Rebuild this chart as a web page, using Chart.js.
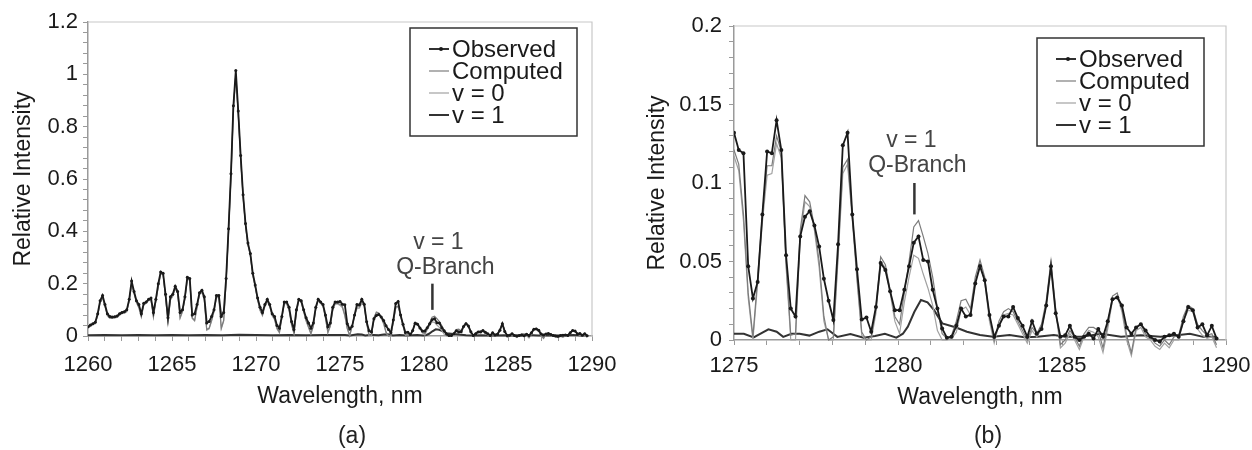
<!DOCTYPE html>
<html>
<head>
<meta charset="utf-8">
<script src="https://cdn.jsdelivr.net/npm/chart.js@4.4.0/dist/chart.umd.min.js"></script>
<style>
  body { margin: 0; background: #fff; width: 1252px; height: 450px; position: relative; overflow: hidden; font-family: "Liberation Sans", Arial, sans-serif; }
  canvas { position: absolute; top: 0; }
  #chartA { left: 0; }
  #chartB { left: 620px; }
  .caption { position: absolute; top: 424px; font-size: 23px; line-height: 1; color: #222; transform: translateX(-50%); }
</style>
</head>
<body>
<canvas id="chartA" width="620" height="450"></canvas>
<canvas id="chartB" width="632" height="450"></canvas>
<div class="caption" style="left:352px">(a)</div>
<div class="caption" style="left:988px">(b)</div>
<script>
// Sampling grid of the spectrometer (nm)
const wlStart = 1260;
const wlStep = 15 / 104;

const seriesNames = ["Observed", "Computed", "v = 0", "v = 1"];
const noteLines = ["v = 1", "Q-Branch"];
const qBranchWavelength = 1280.5;

// Relative intensity, one value per grid point
const observed = [
  0.035, 0.042, 0.047, 0.053, 0.085, 0.135, 0.155, 0.12, 0.085, 0.075,
  0.073, 0.074, 0.076, 0.085, 0.09, 0.093, 0.1, 0.14, 0.21, 0.17,
  0.135, 0.12, 0.085, 0.125, 0.13, 0.14, 0.145, 0.09, 0.14, 0.2,
  0.245, 0.24, 0.16, 0.07, 0.15, 0.16, 0.19, 0.17, 0.09, 0.1,
  0.15, 0.225, 0.22, 0.08, 0.085, 0.12, 0.165, 0.175, 0.15, 0.05,
  0.055, 0.075, 0.1, 0.155, 0.155, 0.075, 0.09, 0.22, 0.41, 0.62,
  0.88, 1.015, 0.86, 0.69, 0.54, 0.43, 0.355, 0.315, 0.24, 0.195,
  0.145, 0.11, 0.09, 0.12, 0.14, 0.12, 0.085, 0.075, 0.04, 0.03,
  0.075, 0.13, 0.13, 0.11, 0.055, 0.025, 0.1, 0.14, 0.135, 0.1,
  0.07, 0.05, 0.03, 0.05, 0.11, 0.14, 0.13, 0.12, 0.08, 0.035,
  0.05, 0.11, 0.13, 0.13,
  0.132, 0.121, 0.119, 0.047, 0.0265, 0.037, 0.08, 0.12, 0.119, 0.14,
  0.121, 0.054, 0.02, 0.015, 0.066, 0.0785, 0.082, 0.073, 0.0595, 0.039,
  0.025, 0.0127, 0.061, 0.124, 0.132, 0.08, 0.045, 0.013, 0.0144, 0.0053,
  0.021, 0.049, 0.0446, 0.031, 0.019,
  0.019, 0.032, 0.047, 0.062, 0.066, 0.051, 0.05, 0.032, 0.02, 0.0074,
  0.0015, 0.002, 0.009, 0.02, 0.015, 0.016, 0.036, 0.047, 0.038, 0.016,
  0.002, 0.009, 0.015, 0.015, 0.021, 0.014, 0.009, 0.002, 0.012, 0.004,
  0.007, 0.022, 0.047, 0.017, 0.002,
  0.003, 0.009, 0.002, 0.0, 0.002, 0.004, 0.001, 0.007, 0.002, 0.012,
  0.026, 0.027, 0.022, 0.008, 0.004, 0.008, 0.01, 0.006, 0.002, 0.0,
  -0.001, 0.002, 0.003, 0.004, 0.002, 0.012, 0.021, 0.019, 0.008, 0.01,
  0.003, 0.009, 0.001
];

const computed = [
  0.033, 0.04, 0.046, 0.05, 0.08, 0.13, 0.15, 0.115, 0.08, 0.07,
  0.07, 0.072, 0.074, 0.082, 0.088, 0.09, 0.095, 0.135, 0.2, 0.165,
  0.13, 0.11, 0.075, 0.12, 0.128, 0.138, 0.14, 0.075, 0.135, 0.19,
  0.24, 0.235, 0.15, 0.055, 0.14, 0.155, 0.185, 0.165, 0.07, 0.095,
  0.145, 0.22, 0.215, 0.07, 0.06, 0.11, 0.16, 0.17, 0.14, 0.025,
  0.03, 0.06, 0.095, 0.15, 0.15, 0.03, 0.06, 0.21, 0.4, 0.61,
  0.87, 1.0, 0.85, 0.68, 0.535, 0.425, 0.35, 0.31, 0.235, 0.19,
  0.14, 0.1, 0.08, 0.115, 0.135, 0.115, 0.08, 0.065, 0.03, 0.015,
  0.07, 0.128, 0.125, 0.1, 0.045, 0.012, 0.09, 0.14, 0.13, 0.095,
  0.06, 0.035, 0.01, 0.04, 0.105, 0.14, 0.128, 0.115, 0.07, 0.015,
  0.04, 0.1, 0.125, 0.125,
  0.121, 0.112, 0.08, 0.03, 0.002, 0.04, 0.08, 0.111, 0.111, 0.13,
  0.12, 0.05, 0.003, 0.004, 0.07, 0.092, 0.088, 0.072, 0.05, 0.015,
  0.0, 0.002, 0.055, 0.11, 0.115, 0.08, 0.04, 0.005, 0.0, 0.002,
  0.02, 0.053, 0.048, 0.032, 0.015,
  0.01, 0.03, 0.05, 0.072, 0.076, 0.066, 0.055, 0.04, 0.02, 0.004,
  0.001, 0.003, 0.012, 0.025, 0.026, 0.02, 0.04, 0.051, 0.04, 0.015,
  0.0, 0.012, 0.018, 0.02, 0.018, 0.012, 0.006, 0.0, 0.008, 0.004,
  0.01, 0.025, 0.05, 0.02, -0.003,
  0.0, 0.006, 0.002, -0.004, 0.004, 0.008, 0.008, 0.006, -0.005, 0.01,
  0.028, 0.03, 0.02, 0.003, -0.008, 0.008, 0.01, 0.004, 0.002, -0.002,
  -0.004, 0.0, -0.003, 0.002, 0.003, 0.015, 0.022, 0.02, 0.01, 0.006,
  0.003, 0.004, -0.003
];

const vZero = [
  0.03, 0.037, 0.043, 0.047, 0.077, 0.127, 0.147, 0.112, 0.077, 0.067,
  0.067, 0.069, 0.071, 0.079, 0.085, 0.087, 0.092, 0.132, 0.197, 0.162,
  0.127, 0.107, 0.072, 0.117, 0.125, 0.135, 0.137, 0.072, 0.132, 0.187,
  0.237, 0.232, 0.147, 0.052, 0.137, 0.152, 0.182, 0.162, 0.067, 0.092,
  0.142, 0.217, 0.212, 0.067, 0.057, 0.107, 0.157, 0.167, 0.137, 0.022,
  0.027, 0.057, 0.092, 0.147, 0.147, 0.027, 0.057, 0.207, 0.397, 0.607,
  0.867, 0.997, 0.847, 0.677, 0.532, 0.422, 0.347, 0.307, 0.232, 0.187,
  0.137, 0.097, 0.077, 0.112, 0.132, 0.112, 0.077, 0.062, 0.027, 0.012,
  0.067, 0.125, 0.122, 0.097, 0.042, 0.009, 0.087, 0.137, 0.127, 0.092,
  0.057, 0.032, 0.007, 0.037, 0.102, 0.137, 0.125, 0.112, 0.067, 0.012,
  0.037, 0.097, 0.122, 0.122,
  0.117, 0.108, 0.076, 0.027, 0.0, 0.036, 0.075, 0.105, 0.106, 0.125,
  0.116, 0.047, 0.0, 0.0, 0.066, 0.088, 0.085, 0.07, 0.046, 0.012,
  0.0, 0.0, 0.052, 0.106, 0.112, 0.077, 0.038, 0.003, 0.0, 0.0,
  0.017, 0.05, 0.046, 0.03, 0.012,
  0.004, 0.024, 0.04, 0.054, 0.052, 0.042, 0.033, 0.022, 0.006, 0.0,
  0.0, 0.001, 0.005, 0.019, 0.021, 0.016, 0.037, 0.048, 0.037, 0.012,
  -0.002, 0.01, 0.016, 0.017, 0.016, 0.01, 0.004, -0.002, 0.006, 0.002,
  0.007, 0.022, 0.047, 0.018, -0.005,
  -0.002, 0.004, 0.0, -0.006, 0.002, 0.006, 0.005, 0.002, -0.008, 0.007,
  0.025, 0.028, 0.018, 0.0, -0.01, 0.006, 0.008, 0.002, 0.0, -0.004,
  -0.006, -0.002, -0.005, 0.0, 0.0, 0.012, 0.019, 0.018, 0.007, 0.003,
  0.001, 0.002, -0.005
];

// v = 1 band is smooth, read on its own wavelengths
const vOneWavelength = [
  1260, 1261, 1262, 1263, 1264, 1265, 1266, 1267, 1268, 1269,
  1270, 1271, 1272, 1273, 1274, 1275, 1275.3, 1275.6, 1276.05, 1276.3,
  1276.5, 1276.75, 1277, 1277.3, 1277.6, 1277.85, 1278.15, 1278.55, 1278.95, 1279.3,
  1279.6, 1279.95, 1280.15, 1280.3, 1280.5, 1280.7, 1280.9, 1281.1, 1281.35, 1281.75,
  1282.1, 1282.5, 1282.9, 1283.4, 1283.85, 1284.25, 1284.75, 1285.1, 1285.6, 1286.2,
  1286.8, 1287.4, 1288, 1288.5, 1288.9, 1289.3, 1289.7
];
const vOne = [
  0.003, 0.004, 0.003, 0.004, 0.003, 0.004, 0.003, 0.004, 0.003, 0.005,
  0.004, 0.003, 0.004, 0.003, 0.004, 0.004, 0.004, 0.0017, 0.0068, 0.0053,
  0.002, 0.004, 0.004, 0.0028, 0.0053, 0.0068, 0.002, 0.0038, 0.0015, 0.0025,
  0.004, 0.0015, 0.004, 0.0085, 0.018, 0.0255, 0.024, 0.019, 0.0106, 0.0081,
  0.0053, 0.0032, 0.0021, 0.0032, 0.0017, 0.0021, 0.0032, 0.0021, 0.002, 0.004,
  0.002, 0.003, 0.002, 0.003, 0.004, 0.002, 0.002
];

const wavelength = observed.map((_, i) => wlStart + i * wlStep);
const toPoints = (xs, ys) => ys.map((y, i) => ({ x: xs[i], y: y }));

const FONT = '"Liberation Sans", Arial, sans-serif';
Chart.defaults.font.family = FONT;
Chart.defaults.color = "#1a1a1a";

const styles = [
  { color: "#1a1a1a", width: 1.8, dot: true },
  { color: "#7c7c7c", width: 1.2 },
  { color: "#a2a2a2", width: 1.2 },
  { color: "#333333", width: 2 }
];

function drawLegend(chart, o) {
  const { ctx, chartArea } = chart;
  const w = 167, h = 108;
  const left = chartArea.right - o.inset - w;
  const top = chartArea.top + o.drop;
  ctx.save();
  ctx.fillStyle = "#fff";
  ctx.fillRect(left, top, w, h);
  ctx.strokeStyle = "#333";
  ctx.lineWidth = 1.5;
  ctx.strokeRect(left, top, w, h);
  ctx.font = "24px " + FONT;
  ctx.textAlign = "left";
  ctx.textBaseline = "alphabetic";
  seriesNames.forEach((name, i) => {
    const s = styles[i];
    const base = top + 29 + i * 22;
    const mid = base - 8;
    ctx.strokeStyle = s.color;
    ctx.lineWidth = s.width;
    ctx.beginPath();
    ctx.moveTo(left + 19, mid);
    ctx.lineTo(left + 39, mid);
    ctx.stroke();
    if (s.dot) {
      ctx.fillStyle = s.color;
      ctx.beginPath();
      ctx.arc(left + 31, mid, 2, 0, Math.PI * 2);
      ctx.fill();
    }
    ctx.fillStyle = "#1a1a1a";
    ctx.fillText(name, left + 42, base);
  });
  ctx.restore();
}

function drawNote(chart, o) {
  const { ctx, scales } = chart;
  const x = scales.x.getPixelForValue(qBranchWavelength);
  const yTop = scales.y.getPixelForValue(o.from);
  const yBot = scales.y.getPixelForValue(o.to);
  ctx.save();
  ctx.strokeStyle = "#333";
  ctx.lineWidth = 2.5;
  ctx.beginPath();
  ctx.moveTo(x, yTop);
  ctx.lineTo(x, yBot);
  ctx.stroke();
  ctx.fillStyle = "#444";
  ctx.font = "23px " + FONT;
  ctx.textAlign = "center";
  ctx.fillText(noteLines[0], x + o.dx[0], yTop - o.dy[0]);
  ctx.fillText(noteLines[1], x + o.dx[1], yTop - o.dy[1]);
  ctx.restore();
}

// light frame on top/right, legend box and the Q-branch marker
const decor = {
  id: "decor",
  beforeDatasetsDraw(chart) {
    const { ctx, chartArea: a } = chart;
    ctx.save();
    ctx.strokeStyle = "#c8c8c8";
    ctx.lineWidth = 1.2;
    ctx.beginPath();
    ctx.moveTo(a.left, a.top);
    ctx.lineTo(a.right, a.top);
    ctx.lineTo(a.right, a.bottom);
    ctx.stroke();
    ctx.restore();
  },
  afterDraw(chart, args, opts) {
    drawNote(chart, opts.note);
    drawLegend(chart, opts.legend);
  }
};

function makeChart(id, cfg) {
  const clip = { left: 0, top: 0, right: 0, bottom: 20 };
  const sets = [
    toPoints(wavelength, observed),
    toPoints(wavelength, computed),
    toPoints(wavelength, vZero),
    toPoints(vOneWavelength, vOne)
  ];
  return new Chart(document.getElementById(id), {
    type: "line",
    data: {
      datasets: sets.map((d, i) => ({
        label: seriesNames[i],
        data: d,
        borderColor: styles[i].color,
        borderWidth: styles[i].width,
        pointRadius: styles[i].dot ? cfg.dot : 0,
        pointBackgroundColor: styles[i].color,
        pointBorderWidth: 0,
        tension: 0,
        clip: clip
      }))
    },
    options: {
      responsive: false,
      animation: false,
      events: [],
      layout: { padding: { top: cfg.top, right: cfg.right, bottom: cfg.bottom, left: 0 } },
      plugins: {
        legend: { display: false },
        tooltip: { enabled: false },
        decor: { legend: cfg.legend, note: cfg.note }
      },
      scales: {
        x: {
          type: "linear",
          min: cfg.xMin,
          max: 1290,
          afterFit: s => {
            s.height = 80;
            s.paddingLeft = 0;
            s.paddingRight = 0;
          },
          ticks: {
            stepSize: 1,
            autoSkip: false,
            maxRotation: 0,
            padding: cfg.xPad,
            color: "#1a1a1a",
            font: { size: 22 },
            callback: v => (v % 5 === 0 ? String(v) : "")
          },
          grid: { display: true, drawOnChartArea: false, drawTicks: true, tickLength: 5, color: "#9a9a9a" },
          border: { display: true, color: "#9a9a9a", width: 1.5 },
          title: { display: true, text: "Wavelength, nm", color: "#1a1a1a", font: { size: 23 }, padding: { top: 0, bottom: cfg.xTitlePad } }
        },
        y: {
          min: 0,
          max: cfg.yMax,
          afterFit: s => { s.width = cfg.yWidth; },
          ticks: {
            stepSize: cfg.yMinor,
            autoSkip: false,
            padding: cfg.yPad,
            color: "#1a1a1a",
            font: { size: 22 },
            callback: v => {
              const k = v / cfg.yMajor;
              if (Math.abs(k - Math.round(k)) > 1e-6) return "";
              return String(Math.round(v * 100) / 100);
            }
          },
          grid: { display: true, drawOnChartArea: false, drawTicks: true, tickLength: 5, color: "#9a9a9a" },
          border: { display: true, color: "#9a9a9a", width: 1.5 },
          title: { display: true, text: "Relative Intensity", color: "#1a1a1a", font: { size: 23 }, padding: { top: cfg.yTitlePad, bottom: 0 } }
        }
      }
    },
    plugins: [decor]
  });
}

makeChart("chartA", {
  xMin: 1260, yMax: 1.2, yMajor: 0.2, yMinor: 0.04,
  top: 22, right: 28, bottom: 34, yWidth: 88,
  xPad: 11, yPad: 5, xTitlePad: 6, yTitlePad: 10, dot: 1.5,
  legend: { inset: 15, drop: 6 },
  note: { from: 0.2, to: 0.1, dx: [6, 13], dy: [35, 10] }
});

makeChart("chartB", {
  xMin: 1275, yMax: 0.2, yMajor: 0.05, yMinor: 0.01,
  top: 26, right: 26, bottom: 30, yWidth: 114,
  xPad: 8, yPad: 7, xTitlePad: 9, yTitlePad: 24, dot: 2,
  legend: { inset: 22, drop: 12 },
  note: { from: 0.1, to: 0.08, dx: [-3, 3], dy: [36, 11] }
});
</script>
</body>
</html>
